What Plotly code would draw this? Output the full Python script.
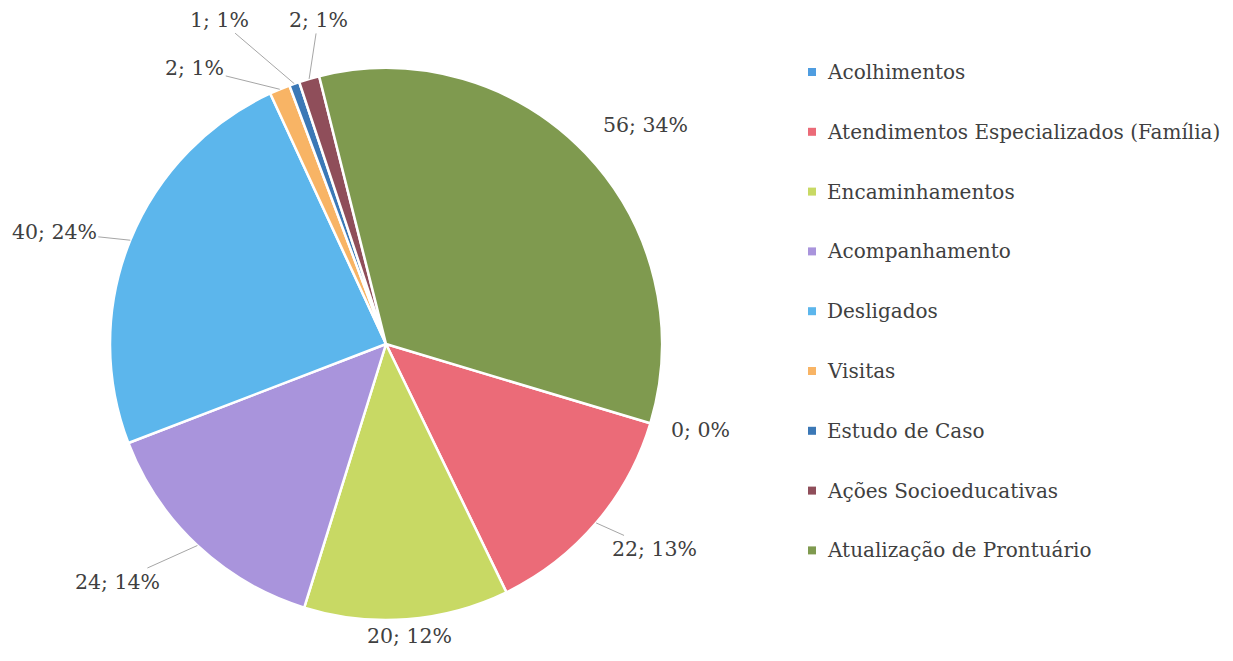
import math
import plotly.graph_objects as go

# ---- data ----
categories = [
    "Acolhimentos",
    "Atendimentos Especializados (Família)",
    "Encaminhamentos",
    "Acompanhamento",
    "Desligados",
    "Visitas",
    "Estudo de Caso",
    "Ações Socioeducativas",
    "Atualização de Prontuário",
]
values = [0, 22, 20, 24, 40, 2, 1, 2, 56]
colors = ["#4f9de0", "#eb6b78", "#c8d964", "#a994dc", "#5cb6ec",
          "#f8b465", "#3b78b6", "#8f4e5a", "#7f9a4f"]

# ---- layout (style) ----
W, H = 1217, 645
cx, cy, R = 378, 336, 276
first_slice_angle = 106.7  # degrees clockwise from 12 o'clock

# label offsets in pixels (tail relative to slice-edge midpoint) and leader visibility
label_offsets = [(50, 7), (58, 26), (3, 17), (-80, 36), (-76, -8),
                 (-85, -21), (-75, -64), (9, -59), (60, -28)]
show_leader = [False, True, False, True, True, True, True, True, False]

FONT = "DejaVu Serif"
TXT = "#404040"
FS = 20.5
FS_LEG = 20

fig = go.Figure()
fig.add_trace(go.Pie(
    labels=categories,
    values=values,
    sort=False,
    direction="clockwise",
    rotation=first_slice_angle,
    marker=dict(colors=colors, line=dict(color="white", width=2.5)),
    textinfo="none",
    showlegend=False,
    domain=dict(x=[(cx - R) / W, (cx + R) / W],
                y=[1 - (cy + R) / H, 1 - (cy - R) / H]),
))

total = sum(values)
annotations = []
shapes = []
angle = first_slice_angle
for i, (cat, v) in enumerate(zip(categories, values)):
    span = v / total * 360.0
    mid = math.radians(angle + span / 2)
    angle += span
    ex = cx + R * math.sin(mid)
    ey = cy - R * math.cos(mid)
    pct = round(v / total * 100)
    ox, oy = label_offsets[i]
    annotations.append(dict(
        x=ex / W, y=1 - ey / H, xref="paper", yref="paper",
        text=f"{v}; {pct}%",
        showarrow=True, arrowhead=0, arrowwidth=1,
        arrowcolor="#a6a6a6" if show_leader[i] else "rgba(0,0,0,0)",
        ax=ox, ay=oy,
        font=dict(family=FONT, size=FS, color=TXT),
    ))

# manual legend
leg_x0, leg_y0, leg_dy = 800, 64, 59.8
for i, cat in enumerate(categories):
    yc = leg_y0 + i * leg_dy
    shapes.append(dict(
        type="rect", xref="paper", yref="paper",
        x0=leg_x0 / W, x1=(leg_x0 + 8) / W,
        y0=1 - (yc + 4) / H, y1=1 - (yc - 4) / H,
        fillcolor=colors[i], line=dict(width=0),
    ))
    annotations.append(dict(
        x=(leg_x0 + 17) / W, y=1 - yc / H, xref="paper", yref="paper",
        text=cat, showarrow=False, xanchor="left", yanchor="middle",
        font=dict(family=FONT, size=FS_LEG, color=TXT),
    ))

fig.update_layout(
    width=W, height=H,
    margin=dict(l=0, r=0, t=0, b=0),
    paper_bgcolor="white", plot_bgcolor="white",
    annotations=annotations, shapes=shapes,
    showlegend=False,
)

fig.write_html("out.html")
